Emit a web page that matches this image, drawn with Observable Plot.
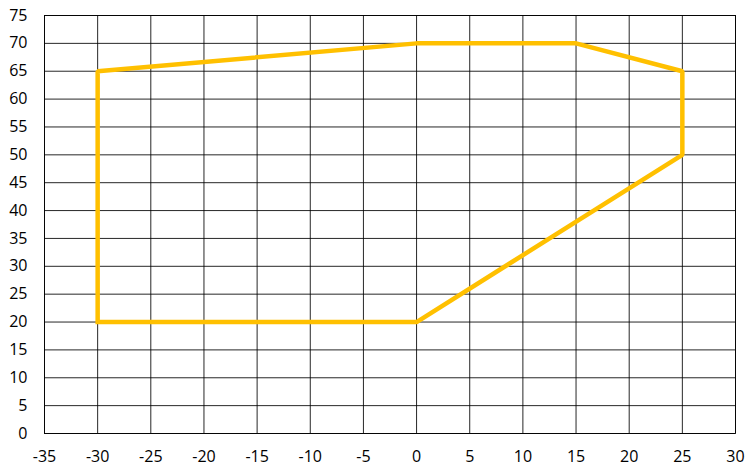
<!DOCTYPE html>
<html>
<head>
<meta charset="utf-8">
<script src="https://cdn.jsdelivr.net/npm/d3@7"></script>
<script src="https://cdn.jsdelivr.net/npm/@observablehq/plot@0.6"></script>
<style>
  html, body { margin: 0; padding: 0; background: #fff; }
</style>
</head>
<body>
<div id="chart"></div>
<script>
const xs = [-30, -30, 0, 15, 25, 25, 0, -30];
const ys = [20, 65, 70, 70, 65, 50, 20, 20];
const xTicks = d3.range(-35, 31, 5);
const yTicks = d3.range(0, 76, 5);

const pts = xs.map((x, i) => ({x, y: ys[i]}));

const chart = Plot.plot({
  width: 753,
  height: 473,
  marginLeft: 44,
  marginRight: 18,
  marginTop: 15,
  marginBottom: 40,
  style: {fontFamily: "'Open Sans', sans-serif", fontSize: "16px", color: "#000", background: "#fff"},
  x: {domain: [-35, 30], ticks: xTicks, label: null, tickSize: 0, tickPadding: 17, tickFormat: d => String(d)},
  y: {domain: [0, 75], ticks: yTicks, label: null, tickSize: 0, tickPadding: 17, tickFormat: d => String(d)},
  marks: [
    Plot.gridX(xTicks, {stroke: "#000", strokeOpacity: 0.85, strokeWidth: 1}),
    Plot.gridY(yTicks, {stroke: "#000", strokeOpacity: 0.85, strokeWidth: 1}),
    Plot.frame({stroke: "#000", strokeOpacity: 0.85}),
    Plot.line(pts, {x: "x", y: "y", stroke: "#FFC000", strokeWidth: 4.5, strokeLinejoin: "miter", strokeLinecap: "square"})
  ]
});
document.getElementById("chart").appendChild(chart);
</script>
</body>
</html>
